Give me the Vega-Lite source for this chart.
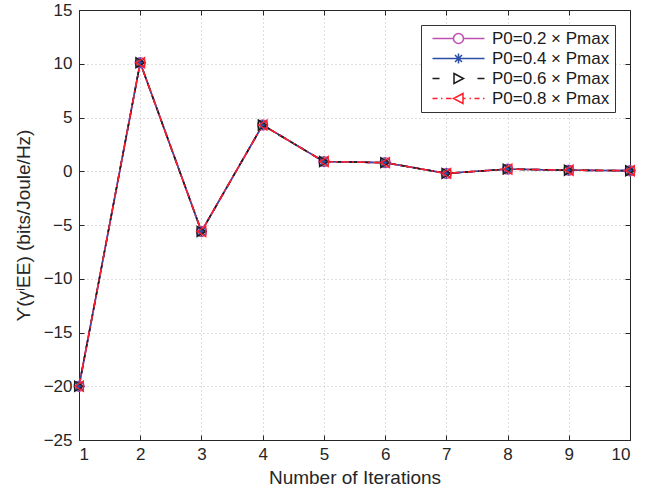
{
  "$schema": "https://vega.github.io/schema/vega-lite/v6.json",
  "width": 551,
  "height": 430,
  "autosize": {"type": "none"},
  "padding": {"left": 79, "top": 10, "right": 22, "bottom": 55},
  "background": "white",
  "config": {
    "font": "Liberation Sans",
    "view": {"stroke": null},
    "axis": {
      "labelFont": "Liberation Sans", "titleFont": "Liberation Sans",
      "labelFontSize": 17, "titleFontSize": 19, "labelColor": "#262626", "titleColor": "#262626",
      "titleFontWeight": "normal", "domain": true, "domainColor": "#262626", "domainWidth": 1,
      "tickColor": "#262626", "tickSize": -5,
      "gridColor": "#bdbdbd", "gridDash": [1, 3], "gridWidth": 1
    },
    "legend": {
      "orient": "top-right", "offset": 15, "title": null, "labelFontSize": 17, "labelColor": "#1a1a1a",
      "labelFont": "Liberation Sans", "strokeColor": "#333333", "fillColor": "white", "padding": 5,
      "rowPadding": 2, "symbolSize": 100, "symbolStrokeWidth": 1.5, "symbolFillColor": "white",
      "symbolOpacity": 1, "symbolOffset": 24, "labelOffset": 25, "cornerRadius": 0
    }
  },
  "data": {"values": [
    {"s": "P0=0.2 × Pmax", "x": 1, "y": -20}, {"s": "P0=0.2 × Pmax", "x": 2, "y": 10.1}, {"s": "P0=0.2 × Pmax", "x": 3, "y": -5.6}, {"s": "P0=0.2 × Pmax", "x": 4, "y": 4.3}, {"s": "P0=0.2 × Pmax", "x": 5, "y": 0.9}, {"s": "P0=0.2 × Pmax", "x": 6, "y": 0.8}, {"s": "P0=0.2 × Pmax", "x": 7, "y": -0.2}, {"s": "P0=0.2 × Pmax", "x": 8, "y": 0.2}, {"s": "P0=0.2 × Pmax", "x": 9, "y": 0.1}, {"s": "P0=0.2 × Pmax", "x": 10, "y": 0.05},
    {"s": "P0=0.4 × Pmax", "x": 1, "y": -20}, {"s": "P0=0.4 × Pmax", "x": 2, "y": 10.1}, {"s": "P0=0.4 × Pmax", "x": 3, "y": -5.6}, {"s": "P0=0.4 × Pmax", "x": 4, "y": 4.3}, {"s": "P0=0.4 × Pmax", "x": 5, "y": 0.9}, {"s": "P0=0.4 × Pmax", "x": 6, "y": 0.8}, {"s": "P0=0.4 × Pmax", "x": 7, "y": -0.2}, {"s": "P0=0.4 × Pmax", "x": 8, "y": 0.2}, {"s": "P0=0.4 × Pmax", "x": 9, "y": 0.1}, {"s": "P0=0.4 × Pmax", "x": 10, "y": 0.05},
    {"s": "P0=0.6 × Pmax", "x": 1, "y": -20}, {"s": "P0=0.6 × Pmax", "x": 2, "y": 10.1}, {"s": "P0=0.6 × Pmax", "x": 3, "y": -5.6}, {"s": "P0=0.6 × Pmax", "x": 4, "y": 4.3}, {"s": "P0=0.6 × Pmax", "x": 5, "y": 0.9}, {"s": "P0=0.6 × Pmax", "x": 6, "y": 0.8}, {"s": "P0=0.6 × Pmax", "x": 7, "y": -0.2}, {"s": "P0=0.6 × Pmax", "x": 8, "y": 0.2}, {"s": "P0=0.6 × Pmax", "x": 9, "y": 0.1}, {"s": "P0=0.6 × Pmax", "x": 10, "y": 0.05},
    {"s": "P0=0.8 × Pmax", "x": 1, "y": -20}, {"s": "P0=0.8 × Pmax", "x": 2, "y": 10.1}, {"s": "P0=0.8 × Pmax", "x": 3, "y": -5.6}, {"s": "P0=0.8 × Pmax", "x": 4, "y": 4.3}, {"s": "P0=0.8 × Pmax", "x": 5, "y": 0.9}, {"s": "P0=0.8 × Pmax", "x": 6, "y": 0.8}, {"s": "P0=0.8 × Pmax", "x": 7, "y": -0.2}, {"s": "P0=0.8 × Pmax", "x": 8, "y": 0.2}, {"s": "P0=0.8 × Pmax", "x": 9, "y": 0.1}, {"s": "P0=0.8 × Pmax", "x": 10, "y": 0.05}
  ]},
  "resolve": {"axis": {"x": "independent", "y": "independent"}, "scale": {"shape": "independent"}},
  "layer": [
    {
      "mark": {"type": "line", "strokeWidth": 1.6},
      "encoding": {
        "x": {"field": "x", "type": "quantitative", "scale": {"domain": [1, 10], "nice": false}, "axis": {"values": [1,2,3,4,5,6,7,8,9,10], "grid": true, "ticks": false, "title": "Number of Iterations", "titlePadding": 6, "labelPadding": 6}},
        "y": {"field": "y", "type": "quantitative", "scale": {"domain": [-25, 15], "nice": false}, "axis": {"values": [-25,-20,-15,-10,-5,0,5,10,15], "grid": true, "ticks": false, "title": "ϒ(γⁱEE) (bits/Joule/Hz)", "titlePadding": 10, "labelPadding": 7}},
        "color": {"field": "s", "type": "nominal", "legend": null, "scale": {"domain": ["P0=0.2 × Pmax", "P0=0.4 × Pmax", "P0=0.6 × Pmax", "P0=0.8 × Pmax"], "range": ["#BF4FB0", "#2A4DA8", "#1a1a1a", "#FF1F2A"]}},
        "strokeDash": {"field": "s", "type": "nominal", "legend": null, "scale": {"domain": ["P0=0.2 × Pmax", "P0=0.4 × Pmax", "P0=0.6 × Pmax", "P0=0.8 × Pmax"], "range": [[1, 0], [1, 0], [8, 5], [8, 3, 2, 3]]}},
        "order": {"field": "s"}
      }
    },
    {
      "mark": {"type": "point", "filled": false, "strokeWidth": 1.4, "size": 100, "opacity": 1},
      "encoding": {
        "x": {"field": "x", "type": "quantitative", "axis": {"orient": "top", "values": [1,2,3,4,5,6,7,8,9,10], "labels": false, "grid": false, "title": null}},
        "y": {"field": "y", "type": "quantitative", "axis": {"orient": "right", "values": [-25,-20,-15,-10,-5,0,5,10,15], "labels": false, "grid": false, "title": null}},
        "color": {"field": "s", "type": "nominal", "legend": null},
        "shape": {"field": "s", "type": "nominal", "legend": null, "scale": {"domain": ["P0=0.2 × Pmax", "P0=0.4 × Pmax", "P0=0.6 × Pmax", "P0=0.8 × Pmax"], "range": ["circle", "M-1,0L1,0M0,-1L0,1M-0.7,-0.7L0.7,0.7M-0.7,0.7L0.7,-0.7", "triangle-right", "triangle-left"]}}
      }
    },
    {
      "mark": {"type": "point", "filled": false, "strokeWidth": 1.4, "size": 100, "opacity": 0},
      "encoding": {
        "x": {"field": "x", "type": "quantitative", "axis": {"orient": "bottom", "values": [1,2,3,4,5,6,7,8,9,10], "labels": false, "grid": false, "domain": false, "title": null}},
        "y": {"field": "y", "type": "quantitative", "axis": {"orient": "left", "values": [-25,-20,-15,-10,-5,0,5,10,15], "labels": false, "grid": false, "domain": false, "title": null}},
        "color": {"field": "s", "type": "nominal", "legend": null},
        "shape": {"field": "s", "type": "nominal",
          "legend": {"symbolStrokeColor": {"expr": "['#BF4FB0','#2A4DA8','#1a1a1a','#FF1F2A'][datum.index]"}},
          "scale": {"domain": ["P0=0.2 × Pmax", "P0=0.4 × Pmax", "P0=0.6 × Pmax", "P0=0.8 × Pmax"], "range": [
          "M-5.2,0L-1,0M1,0L5.2,0M1,0A1,1 0 1,1 -1,0A1,1 0 1,1 1,0Z",
          "M-5.2,0L5.2,0M0,-1L0,1M-0.7,-0.7L0.7,0.7M-0.7,0.7L0.7,-0.7",
          "M-5.2,0L-3.8,0M3.8,0L5.2,0M-0.9,-1L1,0L-0.9,1Z",
          "M-5.2,0L-4.2,0M-3.5,0L-3.2,0M-2.5,0L-1.4,0M1,0L1.4,0M2.2,0L2.5,0M3.2,0L4.2,0M4.9,0L5.2,0M0.9,-1L-1,0L0.9,1Z"
        ]}}
      }
    }
  ]
}
